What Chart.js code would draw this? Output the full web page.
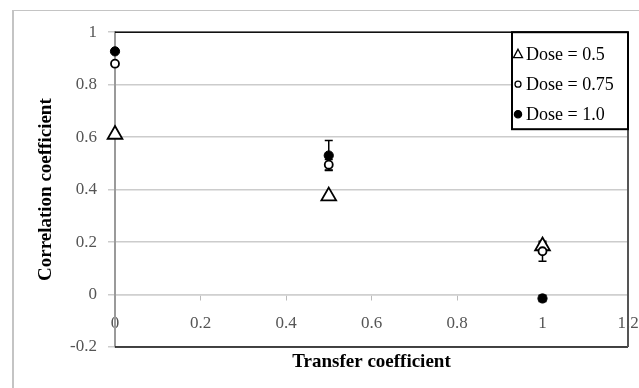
<!DOCTYPE html>
<html>
<head>
<meta charset="utf-8">
<script src="https://cdn.jsdelivr.net/npm/chart.js@4/dist/chart.umd.min.js"></script>
<style>
  html, body { margin: 0; padding: 0; background: #fff; overflow: hidden; }
  #frame { position: absolute; left: 12px; top: 10px; width: 700px; height: 420px;
           border-left: 2px solid #c4c4c4; border-top: 1px solid #c4c4c4; }
  #wrap { position: absolute; left: 14px; top: 11px; width: 625px; height: 377px; }
</style>
</head>
<body>
<div id="frame"></div>
<div id="wrap"><canvas id="c" width="625" height="377"></canvas></div>
<script>
// Transfer coefficient (x) for each measurement
const transferCoef = [0, 0.5, 1];

// Correlation coefficient per dose
const dose05 = [0.61, 0.375, 0.185];
const dose075 = [0.88, 0.495, 0.165];
const dose10 = [0.927, 0.53, -0.015];

// Error bar half-lengths
const err05 = [0, 0, 0.012];
const err075 = [0, 0.02, 0.038];
const err10 = [0, 0.057, 0.012];

const seriesLabels = ['Dose = 0.5', 'Dose = 0.75', 'Dose = 1.0'];

const xTitle = 'Transfer coefficient';
const yTitle = 'Correlation coefficient';

const SERIF = "'Liberation Serif', 'Times New Roman', serif";

const toPoints = (ys) => transferCoef.map((x, i) => ({ x: x, y: ys[i] }));

// Short numeric labels: 1, 0.8, 0, -0.2 ...
const tickText = (v) => String(parseFloat(Number(v).toFixed(2)));

// Vertical error bars with caps, drawn beneath the markers
const errorBars = {
  id: 'errorBars',
  beforeDatasetsDraw(chart) {
    const { ctx, scales } = chart;
    const xs = scales.x, ys = scales.y;
    ctx.save();
    ctx.strokeStyle = '#000';
    ctx.lineWidth = 1.5;
    chart.data.datasets.forEach((ds) => {
      if (!ds.errors) return;
      ds.data.forEach((p, i) => {
        const e = ds.errors[i];
        if (!e) return;
        const px = xs.getPixelForValue(p.x);
        const top = ys.getPixelForValue(p.y + e);
        const bot = ys.getPixelForValue(p.y - e);
        ctx.beginPath();
        ctx.moveTo(px, top); ctx.lineTo(px, bot);
        ctx.moveTo(px - 4, top); ctx.lineTo(px + 4, top);
        ctx.moveTo(px - 4, bot); ctx.lineTo(px + 4, bot);
        ctx.stroke();
      });
    });
    ctx.restore();
  }
};

// Plot-area outline on the top, right and bottom edges
const plotFrame = {
  id: 'plotFrame',
  beforeDatasetsDraw(chart) {
    const { ctx, chartArea: a } = chart;
    ctx.save();
    ctx.strokeStyle = '#111';
    ctx.lineWidth = 1.5;
    ctx.beginPath();
    ctx.moveTo(a.left, a.top); ctx.lineTo(a.right, a.top);
    ctx.moveTo(a.left, a.bottom); ctx.lineTo(a.right, a.bottom);
    ctx.stroke();
    ctx.strokeStyle = '#555';
    ctx.lineWidth = 2;
    ctx.beginPath();
    ctx.moveTo(a.right, a.top); ctx.lineTo(a.right, a.bottom);
    ctx.stroke();
    ctx.restore();
  }
};

// Boxed legend in the upper-right corner of the plot area
const boxLegend = {
  id: 'boxLegend',
  afterDatasetsDraw(chart) {
    const { ctx, chartArea: a } = chart;
    const w = 116, h = 97;
    const bx = a.right - w, by = a.top;
    ctx.save();
    ctx.fillStyle = '#fff';
    ctx.fillRect(bx, by, w, h);
    ctx.strokeStyle = '#000';
    ctx.lineWidth = 2;
    ctx.strokeRect(bx, by, w, h);
    ctx.font = '18px ' + SERIF;
    ctx.textBaseline = 'middle';
    ctx.textAlign = 'left';
    chart.data.datasets.forEach((ds, i) => {
      const cy = by + 22 + i * 30;
      const mx = bx + 6;
      ctx.lineWidth = 1.3;
      ctx.strokeStyle = '#000';
      ctx.beginPath();
      if (ds.pointStyle === 'triangle') {
        ctx.moveTo(mx, cy - 5);
        ctx.lineTo(mx + 4.5, cy + 3.5);
        ctx.lineTo(mx - 4.5, cy + 3.5);
        ctx.closePath();
        ctx.fillStyle = '#fff';
        ctx.fill();
        ctx.stroke();
      } else {
        const r = ds.backgroundColor === '#000' ? 3.6 : 3;
        ctx.arc(mx, cy, r, 0, Math.PI * 2);
        ctx.fillStyle = ds.backgroundColor;
        ctx.fill();
        ctx.stroke();
      }
      ctx.fillStyle = '#000';
      ctx.fillText(ds.label, bx + 14, cy + 1);
    });
    ctx.restore();
  }
};

new Chart(document.getElementById('c'), {
  type: 'scatter',
  data: {
    datasets: [
      {
        label: seriesLabels[0], data: toPoints(dose05), errors: err05, order: 3, clip: false,
        pointStyle: 'triangle', pointRadius: 8.5, pointHoverRadius: 8.5,
        backgroundColor: '#fff', borderColor: '#000', borderWidth: 1.8
      },
      {
        label: seriesLabels[1], data: toPoints(dose075), errors: err075, order: 2, clip: false,
        pointStyle: 'circle', pointRadius: 4, pointHoverRadius: 4,
        backgroundColor: '#fff', borderColor: '#000', borderWidth: 1.8
      },
      {
        label: seriesLabels[2], data: toPoints(dose10), errors: err10, order: 1, clip: false,
        pointStyle: 'circle', pointRadius: 4.6, pointHoverRadius: 4.6,
        backgroundColor: '#000', borderColor: '#000', borderWidth: 1
      }
    ]
  },
  options: {
    responsive: false,
    animation: false,
    events: [],
    layout: { padding: { top: 19, right: 11, left: 0, bottom: 0 } },
    plugins: { legend: { display: false }, tooltip: { enabled: false } },
    scales: {
      x: {
        type: 'linear',
        position: { y: 0 },
        min: 0, max: 1.2,
        ticks: { stepSize: 0.2, padding: 14, color: '#555', font: { family: SERIF, size: 17 },
                 maxRotation: 0, callback: tickText },
        grid: { display: true, drawOnChartArea: false, drawTicks: true, tickLength: 5, color: '#bbb', lineWidth: 1 },
        border: { display: true, color: '#d0d0d0', width: 1.5 },
        afterFit(s) { s.paddingLeft = 0; s.paddingRight = 0; }
      },
      x2: {
        type: 'linear',
        position: 'bottom',
        min: 0, max: 1.2,
        ticks: { display: false },
        grid: { display: false },
        border: { display: false },
        title: { display: true, text: xTitle, color: '#000', padding: { top: 0, bottom: 15 },
                 font: { family: SERIF, size: 19, weight: 'bold' } },
        afterFit(s) { s.height = 41; s.paddingLeft = 0; s.paddingRight = 0; }
      },
      y: {
        type: 'linear',
        position: 'left',
        min: -0.2, max: 1,
        ticks: { stepSize: 0.2, padding: 11, color: '#555', font: { family: SERIF, size: 17 },
                 callback: tickText },
        grid: { color: '#cccccc', lineWidth: 1.5, tickLength: 7 },
        border: { color: '#9a9a9a', width: 2 },
        title: { display: true, text: yTitle, color: '#000', padding: { top: 21, bottom: 0 },
                 font: { family: SERIF, size: 19, weight: 'bold' } },
        afterFit(s) { s.width = 101; }
      }
    }
  },
  plugins: [errorBars, plotFrame, boxLegend]
});
</script>
</body>
</html>
